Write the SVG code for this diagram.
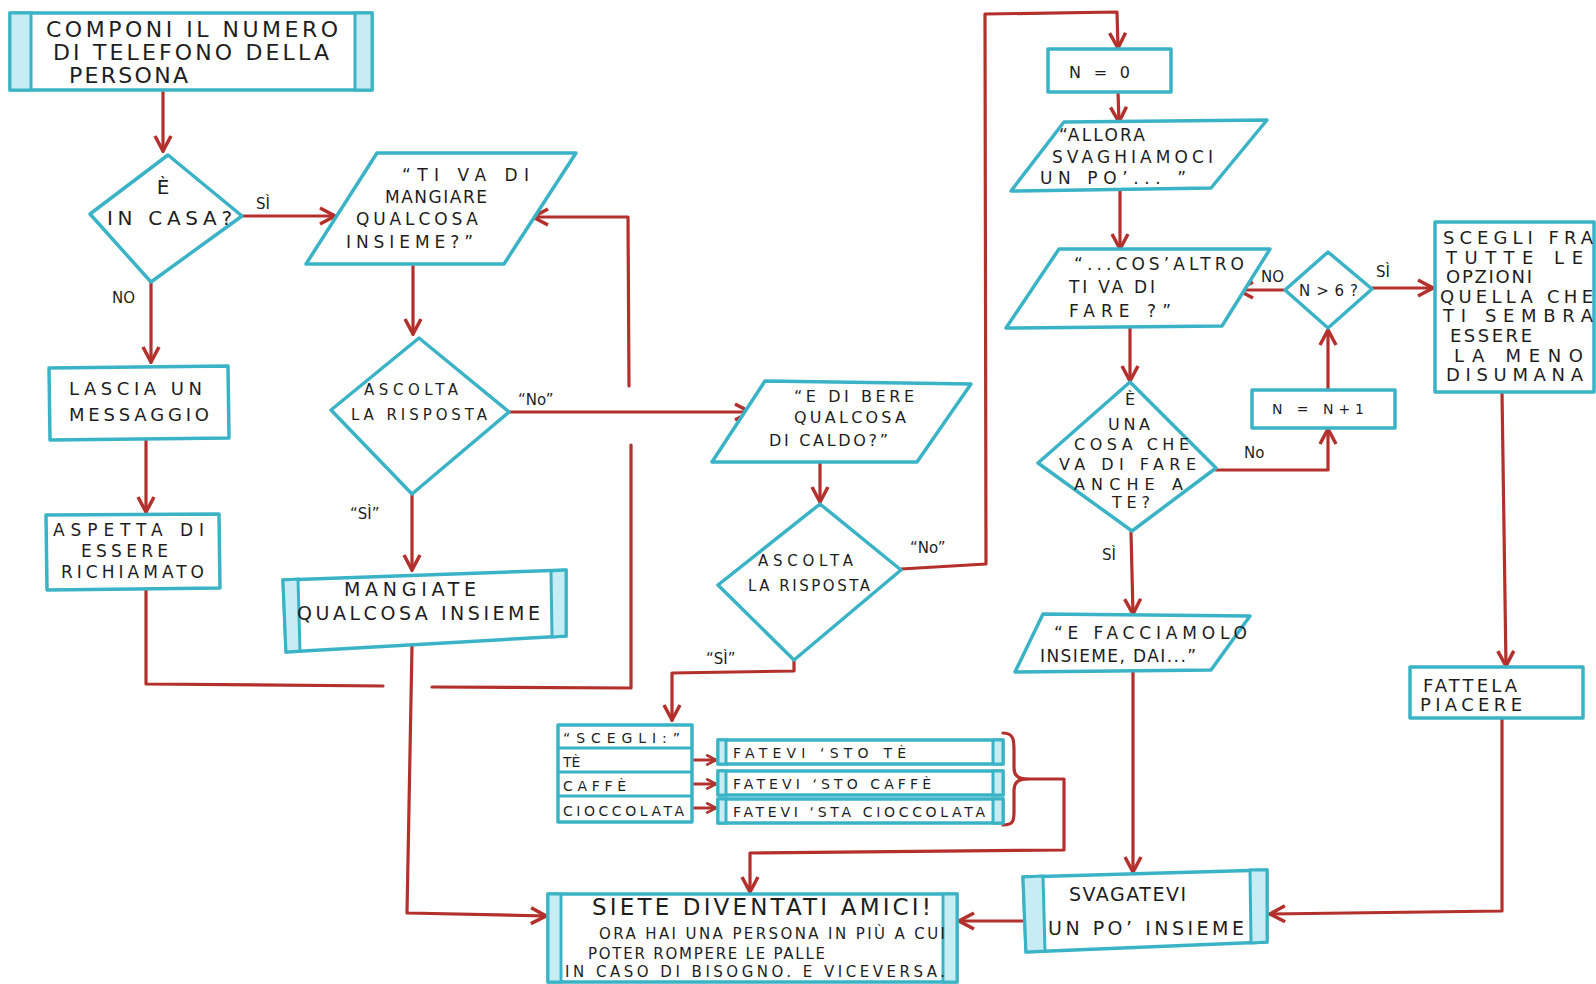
<svg xmlns="http://www.w3.org/2000/svg" width="1596" height="984" viewBox="0 0 1596 984">
<style>
.box{fill:#fff;stroke:#3ab3c6;stroke-width:3.5;stroke-linejoin:round}
.bar{fill:#c6edf4;stroke:#3ab3c6;stroke-width:3}
.ln{fill:none;stroke:#3ab3c6;stroke-width:3}
.c{fill:none;stroke:#b3302c;stroke-width:3.2;stroke-linejoin:round;stroke-linecap:round}
.t{font-family:"DejaVu Sans","Liberation Sans",Arial,sans-serif;fill:#1e1e1e}
.lb{font-family:"DejaVu Sans","Liberation Sans",Arial,sans-serif;fill:#1e1e1e;font-size:15px}
</style>
<defs>
<marker id="ah" viewBox="0 0 20 20" refX="18" refY="10" markerWidth="20" markerHeight="20" markerUnits="userSpaceOnUse" orient="auto">
<path d="M3,2 L18,10 L3,18" fill="none" stroke="#b3302c" stroke-width="3.5"/>
</marker>
<marker id="ahs" viewBox="0 0 20 20" refX="18" refY="10" markerWidth="13" markerHeight="13" markerUnits="userSpaceOnUse" orient="auto">
<path d="M3,2 L18,10 L3,18" fill="none" stroke="#b3302c" stroke-width="4"/>
</marker>
</defs>
<rect width="1596" height="984" fill="#fff"/>

<g id="connectors">
<path class="c" d="M163,92 L163,151" marker-end="url(#ah)"/>
<path class="c" d="M242,216 L335,216" marker-end="url(#ah)"/>
<path class="c" d="M151,282 L151,362" marker-end="url(#ah)"/>
<path class="c" d="M146,440 L146,512" marker-end="url(#ah)"/>
<path class="c" d="M146,590 L146,684 L383,686"/>
<path class="c" d="M432,687 L631,688 L631,445"/>
<path class="c" d="M629,386 L628,217 L533,217" marker-end="url(#ah)"/>
<path class="c" d="M413,266 L413,334" marker-end="url(#ah)"/>
<path class="c" d="M509,412 L750,412" marker-end="url(#ah)"/>
<path class="c" d="M412,494 L412,570" marker-end="url(#ah)"/>
<path class="c" d="M412,646 L407,913 L546,916" marker-end="url(#ah)"/>
<path class="c" d="M820,463 L820,502" marker-end="url(#ah)"/>
<path class="c" d="M901,569 L986,564 L985,14 L1117,12 L1118,48" marker-end="url(#ah)"/>
<path class="c" d="M794,660 L794,671 L672,673 L672,720" marker-end="url(#ah)"/>
<path class="c" d="M692,760 L716,760" marker-end="url(#ahs)"/>
<path class="c" d="M692,784 L716,784" marker-end="url(#ahs)"/>
<path class="c" d="M692,808 L716,808" marker-end="url(#ahs)"/>
<path class="c" d="M1003,733 C1014,733 1014,741 1014,750 L1014,768 C1014,775 1018,779 1027,779 C1018,779 1014,783 1014,790 L1014,812 C1014,821 1013,825 1003,825"/>
<path class="c" d="M1027,779 L1064,779 L1064,850 L750,853 L750,892" marker-end="url(#ah)"/>
<path class="c" d="M1118,92 L1119,122" marker-end="url(#ah)"/>
<path class="c" d="M1120,191 L1120,249" marker-end="url(#ah)"/>
<path class="c" d="M1130,327 L1130,381" marker-end="url(#ah)"/>
<path class="c" d="M1216,470 L1328,470 L1328,429" marker-end="url(#ah)"/>
<path class="c" d="M1328,390 L1328,330" marker-end="url(#ah)"/>
<path class="c" d="M1285,290 L1238,290" marker-end="url(#ah)"/>
<path class="c" d="M1372,288 L1433,288" marker-end="url(#ah)"/>
<path class="c" d="M1502,392 L1506,666" marker-end="url(#ah)"/>
<path class="c" d="M1502,718 L1502,911 L1270,914" marker-end="url(#ah)"/>
<path class="c" d="M1131,532 L1133,614" marker-end="url(#ah)"/>
<path class="c" d="M1133,672 L1133,872" marker-end="url(#ah)"/>
<path class="c" d="M1023,921 L959,921" marker-end="url(#ah)"/>
</g>

<g id="labels">
<text class="lb" x="256" y="209">SÌ</text>
<text class="lb" x="112" y="303" font-size="14">NO</text>
<text class="lb" x="518" y="405" font-size="17">“No”</text>
<text class="lb" x="350" y="519" font-size="17">“SÌ”</text>
<text class="lb" x="910" y="553" font-size="17">“No”</text>
<text class="lb" x="706" y="664" font-size="17">“SÌ”</text>
<text class="lb" x="1261" y="282" font-size="11">NO</text>
<text class="lb" x="1376" y="277">SÌ</text>
<text class="lb" x="1244" y="458" font-size="13">No</text>
<text class="lb" x="1102" y="560">SÌ</text>
</g>

<g id="n_componi">
<rect class="box" x="10" y="13" width="362" height="77"/>
<rect class="bar" x="10" y="13" width="21" height="77"/>
<rect class="bar" x="355" y="13" width="17" height="77"/>
<text class="t" font-size="22" x="46" y="37" textLength="292">COMPONI IL NUMERO</text>
<text class="t" font-size="22" x="53" y="60" textLength="276">DI TELEFONO DELLA</text>
<text class="t" font-size="22" x="69" y="83" textLength="119">PERSONA</text>
</g>

<g id="n_incasa">
<polygon class="box" points="168,155 242,216 151,282 90,214"/>
<text class="t" font-size="20" x="163" y="194" text-anchor="middle">È</text>
<text class="t" font-size="20" x="107" y="225" textLength="125">IN CASA?</text>
</g>

<g id="n_tiva">
<polygon class="box" points="377,153 576,153 504,264 306,264"/>
<text class="t" font-size="17" x="402" y="181" textLength="127">“TI VA DI</text>
<text class="t" font-size="17" x="385" y="203" textLength="102">MANGIARE</text>
<text class="t" font-size="17" x="356" y="225" textLength="122">QUALCOSA</text>
<text class="t" font-size="17" x="346" y="248" textLength="127">INSIEME?”</text>
</g>

<g id="n_lascia">
<polygon class="box" points="49,368 228,366 229,438 50,440"/>
<text class="t" font-size="18" x="69" y="395" textLength="133">LASCIA UN</text>
<text class="t" font-size="18" x="69" y="421" textLength="140">MESSAGGIO</text>
</g>

<g id="n_aspetta">
<polygon class="box" points="46,515 219,514 220,588 47,590"/>
<text class="t" font-size="17" x="53" y="536" textLength="151">ASPETTA DI</text>
<text class="t" font-size="17" x="81" y="557" textLength="87">ESSERE</text>
<text class="t" font-size="17" x="61" y="578" textLength="143">RICHIAMATO</text>
</g>

<g id="n_ascolta1">
<polygon class="box" points="419,338 509,412 412,494 331,410"/>
<text class="t" font-size="15" x="364" y="395" textLength="94">ASCOLTA</text>
<text class="t" font-size="15" x="351" y="420" textLength="136">LA RISPOSTA</text>
</g>

<g id="n_mangiate">
<polygon class="box" points="283,580 566,570 566,636 286,652"/>
<polygon class="bar" points="283,580 298,579 300,651 286,652"/>
<polygon class="bar" points="551,571 566,570 566,636 552,637"/>
<text class="t" font-size="19" x="344" y="596" textLength="132">MANGIATE</text>
<text class="t" font-size="19" x="297" y="620" textLength="243">QUALCOSA INSIEME</text>
</g>

<g id="n_bere">
<polygon class="box" points="765,381 971,384 917,462 712,462"/>
<text class="t" font-size="16" x="794" y="402" textLength="120">“E DI BERE</text>
<text class="t" font-size="16" x="794" y="423" textLength="112">QUALCOSA</text>
<text class="t" font-size="16" x="769" y="446" textLength="119">DI CALDO?”</text>
</g>

<g id="n_ascolta2">
<polygon class="box" points="820,504 901,570 794,660 718,585"/>
<text class="t" font-size="15" x="758" y="566" textLength="95">ASCOLTA</text>
<text class="t" font-size="15" x="748" y="591" textLength="122">LA RISPOSTA</text>
</g>

<g id="n_scegli_table">
<rect class="box" x="558" y="725" width="134" height="97"/>
<line class="ln" x1="558" y1="748" x2="692" y2="748"/>
<line class="ln" x1="558" y1="772" x2="692" y2="772"/>
<line class="ln" x1="558" y1="796" x2="692" y2="796"/>
<text class="t" font-size="14" x="563" y="743" textLength="117">“SCEGLI:”</text>
<text class="t" font-size="14" x="563" y="767">TÈ</text>
<text class="t" font-size="14" x="563" y="791" textLength="63">CAFFÈ</text>
<text class="t" font-size="14" x="563" y="816" textLength="121">CIOCCOLATA</text>
</g>

<g id="n_fatevi_te">
<rect class="box" x="718" y="740" width="285" height="24"/>
<rect class="bar" x="718" y="740" width="8" height="24"/>
<rect class="bar" x="993" y="740" width="10" height="24"/>
<text class="t" font-size="14" x="733" y="758" textLength="173">FATEVI ‘STO  TÈ</text>
</g>
<g id="n_fatevi_caffe">
<rect class="box" x="718" y="771" width="285" height="24"/>
<rect class="bar" x="718" y="771" width="8" height="24"/>
<rect class="bar" x="993" y="771" width="10" height="24"/>
<text class="t" font-size="14" x="733" y="789" textLength="198">FATEVI ‘STO CAFFÈ</text>
</g>
<g id="n_fatevi_cioccolata">
<rect class="box" x="718" y="799" width="285" height="24"/>
<rect class="bar" x="718" y="799" width="8" height="24"/>
<rect class="bar" x="993" y="799" width="10" height="24"/>
<text class="t" font-size="14" x="733" y="817" textLength="252">FATEVI ‘STA CIOCCOLATA</text>
</g>

<g id="n_n0">
<rect class="box" x="1048" y="49" width="123" height="43"/>
<text class="t" font-size="16" x="1069" y="78" textLength="61">N = 0</text>
</g>

<g id="n_allora">
<polygon class="box" points="1064,122 1267,120 1211,188 1011,191"/>
<text class="t" font-size="17" x="1059" y="141" textLength="86">“ALLORA</text>
<text class="t" font-size="17" x="1052" y="163" textLength="161">SVAGHIAMOCI</text>
<text class="t" font-size="17" x="1040" y="184" textLength="146">UN PO’... ”</text>
</g>

<g id="n_cosaltro">
<polygon class="box" points="1059,249 1270,249 1222,326 1006,328"/>
<text class="t" font-size="17" x="1074" y="270" textLength="170">“...COS’ALTRO</text>
<text class="t" font-size="17" x="1069" y="293" textLength="86">TI VA DI</text>
<text class="t" font-size="17" x="1069" y="317" textLength="102">FARE ?”</text>
</g>

<g id="n_unacosa">
<polygon class="box" points="1130,382 1216,468 1132,531 1038,463"/>
<text class="t" font-size="16" x="1130" y="405" text-anchor="middle">È</text>
<text class="t" font-size="16" x="1108" y="430" textLength="42">UNA</text>
<text class="t" font-size="16" x="1074" y="450" textLength="115">COSA CHE</text>
<text class="t" font-size="16" x="1059" y="470" textLength="137">VA DI FARE</text>
<text class="t" font-size="16" x="1074" y="490" textLength="109">ANCHE A</text>
<text class="t" font-size="16" x="1112" y="508" textLength="38">TE?</text>
</g>

<g id="n_nplus1">
<rect class="box" x="1252" y="390" width="143" height="38"/>
<text class="t" font-size="14" x="1272" y="414" textLength="92">N = N+1</text>
</g>

<g id="n_ngt6">
<polygon class="box" points="1328,252 1372,289 1328,328 1285,290"/>
<text class="t" font-size="15" x="1299" y="296" textLength="59">N&gt;6?</text>
</g>

<g id="n_sceglifra">
<rect class="box" x="1435" y="222" width="159" height="170"/>
<text class="t" font-size="18" x="1443" y="244" textLength="150">SCEGLI FRA</text>
<text class="t" font-size="18" x="1446" y="264" textLength="137">TUTTE LE</text>
<text class="t" font-size="18" x="1446" y="283" textLength="86">OPZIONI</text>
<text class="t" font-size="18" x="1440" y="303" textLength="153">QUELLA CHE</text>
<text class="t" font-size="18" x="1443" y="322" textLength="150">TI SEMBRA</text>
<text class="t" font-size="18" x="1450" y="342" textLength="82">ESSERE</text>
<text class="t" font-size="18" x="1454" y="362" textLength="129">LA MENO</text>
<text class="t" font-size="18" x="1446" y="381" textLength="137">DISUMANA</text>
</g>

<g id="n_fattela">
<rect class="box" x="1410" y="667" width="173" height="51"/>
<text class="t" font-size="18" x="1423" y="692" textLength="94">FATTELA</text>
<text class="t" font-size="18" x="1420" y="711" textLength="102">PIACERE</text>
</g>

<g id="n_facciamolo">
<polygon class="box" points="1043,614 1250,616 1211,670 1015,672"/>
<text class="t" font-size="17" x="1054" y="639" textLength="193">“E FACCIAMOLO</text>
<text class="t" font-size="17" x="1040" y="662" textLength="156">INSIEME, DAI...”</text>
</g>

<g id="n_svagatevi">
<polygon class="box" points="1023,877 1267,870 1267,942 1026,952"/>
<polygon class="bar" points="1023,877 1043,876 1045,951 1026,952"/>
<polygon class="bar" points="1250,870 1267,870 1267,942 1251,943"/>
<text class="t" font-size="19" x="1069" y="901" textLength="117">SVAGATEVI</text>
<text class="t" font-size="19" x="1048" y="935" textLength="196">UN PO’ INSIEME</text>
</g>

<g id="n_siete">
<rect class="box" x="548" y="894" width="409" height="88"/>
<rect class="bar" x="548" y="894" width="13" height="88"/>
<rect class="bar" x="943" y="894" width="14" height="88"/>
<text class="t" font-size="23" x="592" y="915" textLength="339">SIETE DIVENTATI AMICI!</text>
<text class="t" font-size="15" x="599" y="939" textLength="346">ORA HAI UNA PERSONA IN PIÙ A CUI</text>
<text class="t" font-size="15" x="588" y="959" textLength="237">POTER ROMPERE LE PALLE</text>
<text class="t" font-size="15" x="565" y="977" textLength="380">IN CASO DI BISOGNO. E VICEVERSA.</text>
</g>
</svg>
